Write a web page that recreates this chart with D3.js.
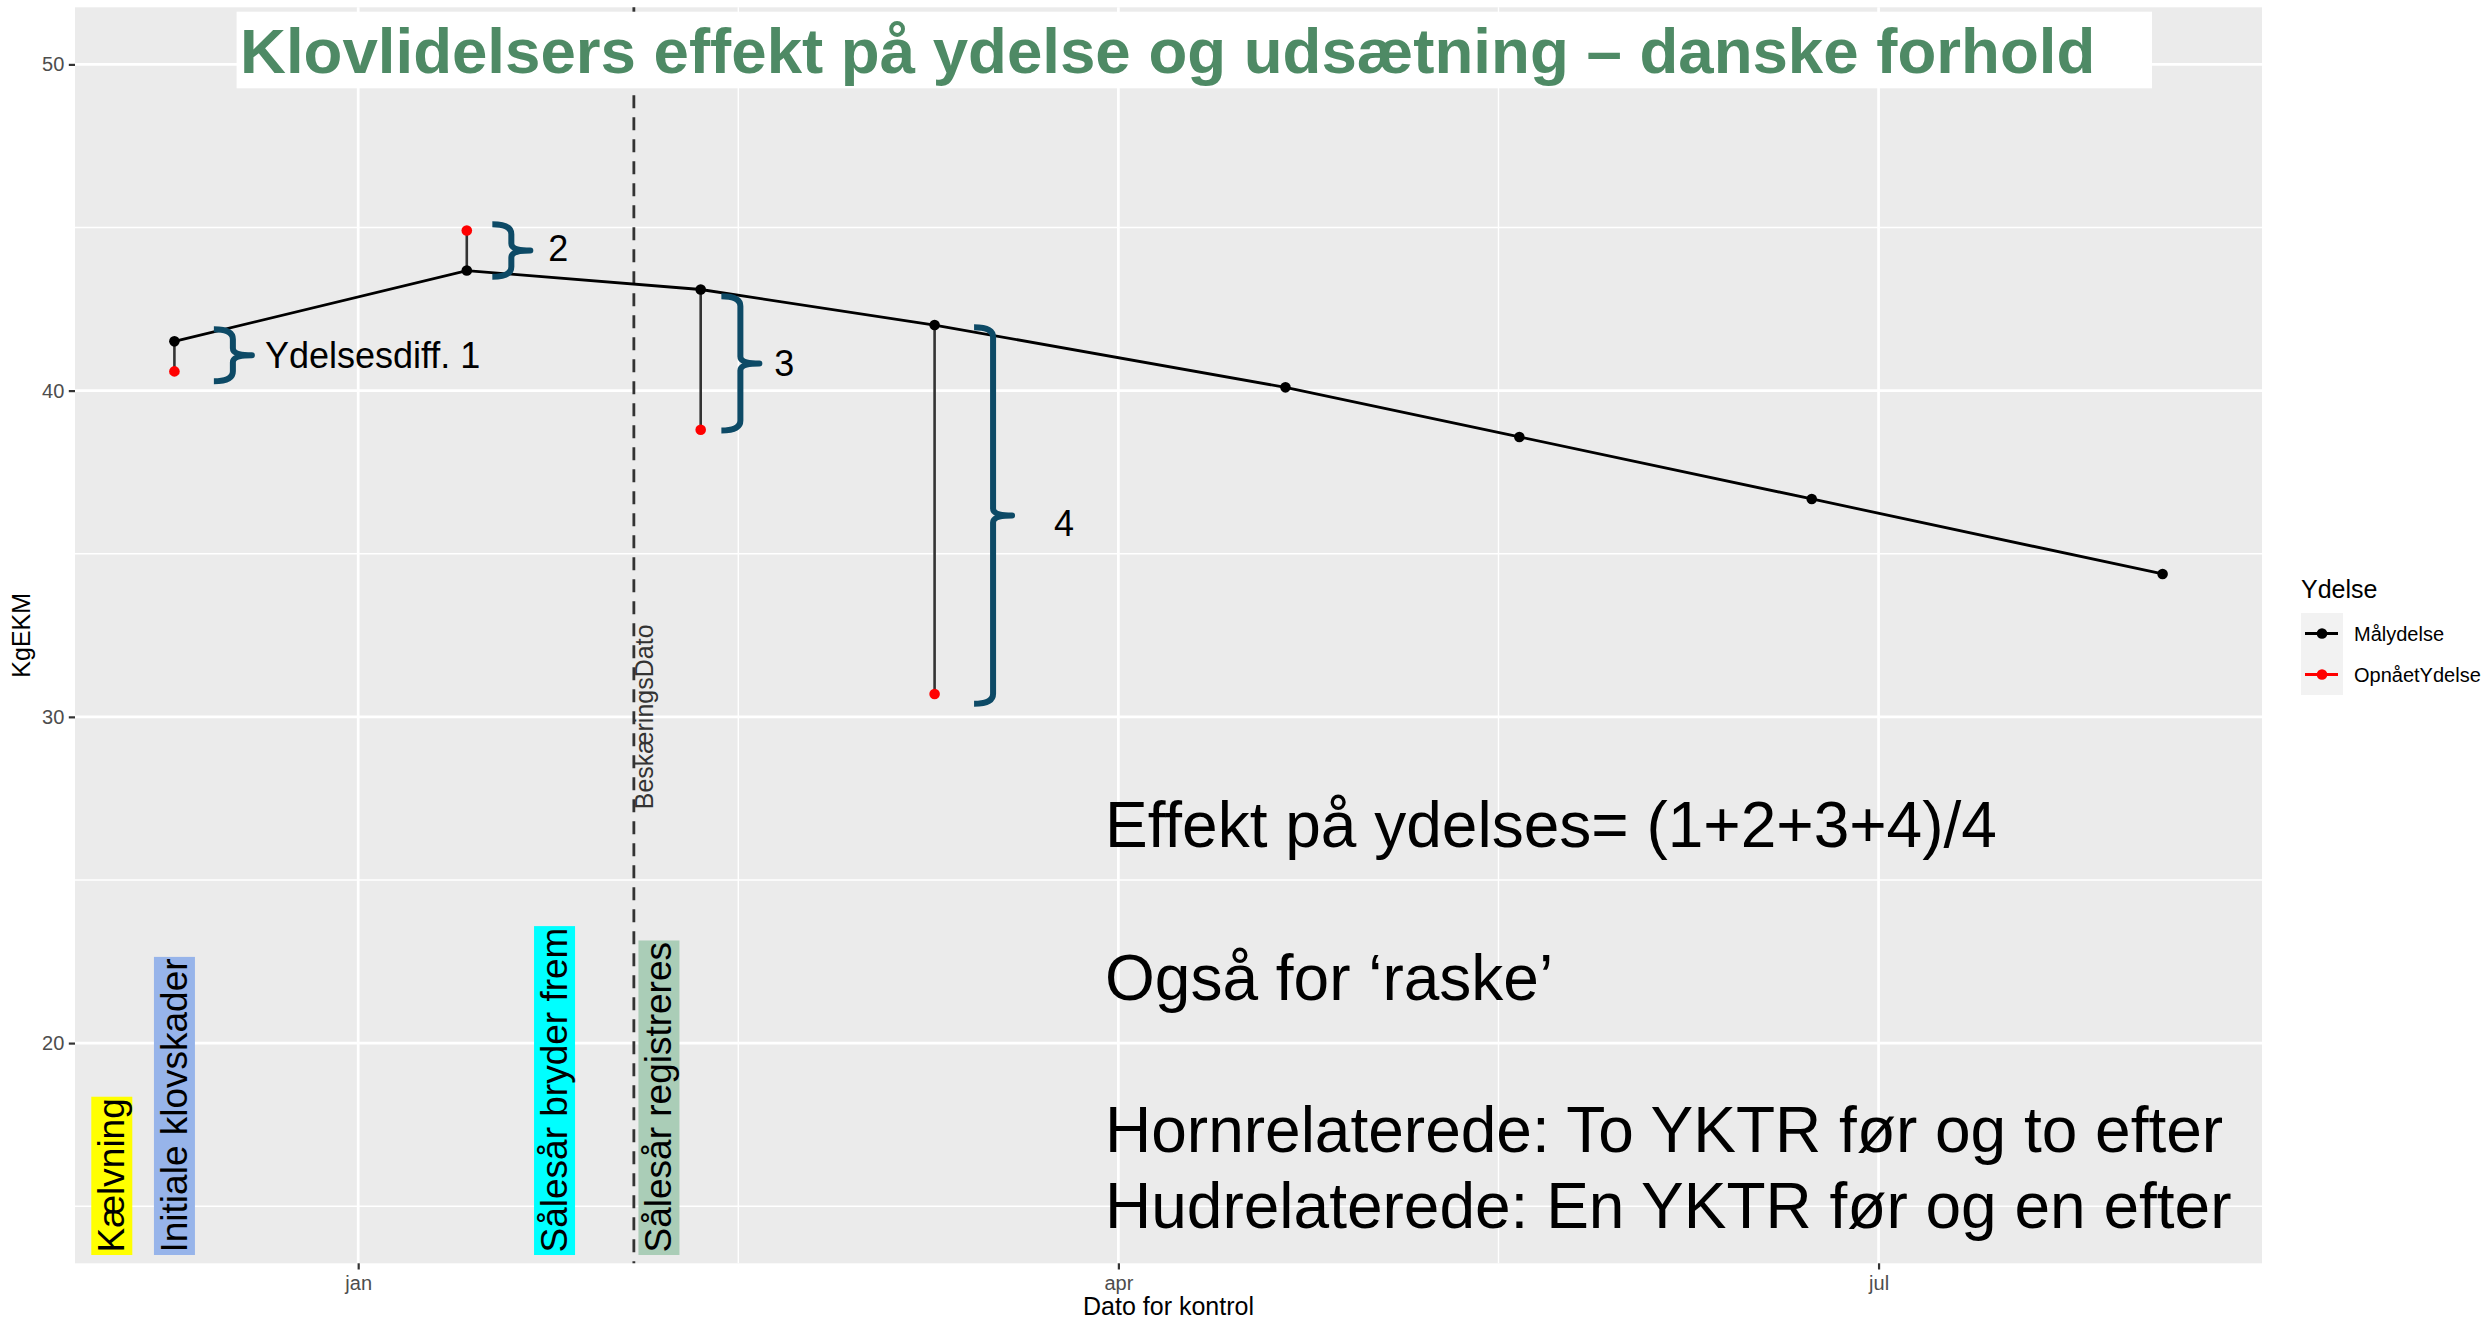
<!DOCTYPE html>
<html>
<head>
<meta charset="utf-8">
<script src="https://cdn.jsdelivr.net/npm/d3@7"></script>
<style>
  html, body { margin: 0; padding: 0; background: #fff; }
  svg { display: block; }
</style>
</head>
<body>
<div id="chart"></div>
<script>
// ---- data ----
const controlDates = ["2019-12-10", "2020-01-14", "2020-02-11", "2020-03-10",
                      "2020-04-21", "2020-05-19", "2020-06-23", "2020-08-04"];
const maalYdelse = [41.51, 43.68, 43.10, 42.01, 40.10, 38.58, 36.68, 34.38];

const opnaaetDates = ["2019-12-10", "2020-01-14", "2020-02-11", "2020-03-10"];
const opnaaetYdelse = [40.59, 44.91, 38.80, 30.70];

const beskaeringsDato = "2020-02-03";
const beskaeringsLabelY = 30;

const yLimits = [15, 50];
const yMajorTicks = [20, 30, 40, 50];
const yMinorTicks = [15, 25, 35, 45];
const xMajorTicks = ["2019-10-01", "2020-01-01", "2020-04-01", "2020-07-01", "2020-10-01"];

const seriesNames = ["Målydelse", "OpnåetYdelse"];
const seriesColors = ["#000000", "#ff0000"];

const titleText = "Klovlidelsers effekt på ydelse og udsætning – danske forhold";

// slide annotations (rotated, boxed) and the date they sit at
const eventLabels = ["Kælvning", "Initiale klovskader", "Sålesår bryder frem", "Sålesår registreres"];
const eventDates = ["2019-12-04", "2019-12-11T12:00", "2020-01-26", "2020-02-07T12:00"];
const eventColors = ["#ffff00", "#97b4ea", "#00ffff", "#aacdb7"];

// braces: stem date, top/bottom value, label
const braceDates = ["2019-12-17", "2020-01-19T08:00", "2020-02-15T18:00", "2020-03-17"];
const braceTop = [41.88, 45.10, 42.89, 41.94];
const braceBottom = [40.29, 43.49, 38.78, 30.40];
const braceLabels = ["Ydelsesdiff. 1", "2", "3", "4"];

const noteLines = [
  "Effekt på ydelses= (1+2+3+4)/4",
  "Også for ‘raske’",
  "Hornrelaterede: To YKTR før og to efter",
  "Hudrelaterede: En YKTR før og en efter"
];

// ---- layout ----
const width = 2489;
const height = 1321;
const panelLeft = 75;
const panelRight = 2262;
const panelTop = 7.3;
const panelBottom = 1263.3;
const font = "'Liberation Sans', Arial, Helvetica, sans-serif";

const braceLabelDx = [13, 18, 15, 42];
const braceLabelDy = [13, 10, 13, 20];
const noteBaselines = [847, 1000, 1152, 1228];

const parse = (s) => new Date(s + (s.length === 10 ? "T00:00:00Z" : "Z"));

const maalData = controlDates.map((d, i) => ({ date: parse(d), value: maalYdelse[i] }));
const opnData = opnaaetDates.map((d, i) => ({ date: parse(d), value: opnaaetYdelse[i] }));
const maalByDate = new Map(maalData.map((d) => [+d.date, d.value]));

const daLocale = d3.timeFormatLocale({
  dateTime: "%A den %d %B %Y %X", date: "%d-%m-%Y", time: "%H:%M:%S",
  periods: ["AM", "PM"],
  days: ["søndag", "mandag", "tirsdag", "onsdag", "torsdag", "fredag", "lørdag"],
  shortDays: ["søn", "man", "tir", "ons", "tor", "fre", "lør"],
  months: ["januar", "februar", "marts", "april", "maj", "juni", "juli", "august", "september", "oktober", "november", "december"],
  shortMonths: ["jan", "feb", "mar", "apr", "maj", "jun", "jul", "aug", "sep", "okt", "nov", "dec"]
});

// ggplot style 5% expansion
const xExt = d3.extent(maalData, (d) => +d.date);
const xPad = (xExt[1] - xExt[0]) * 0.05;
const x = d3.scaleUtc()
  .domain([new Date(xExt[0] - xPad), new Date(xExt[1] + xPad)])
  .range([panelLeft, panelRight]);

const yPad = (yLimits[1] - yLimits[0]) * 0.05;
const y = d3.scaleLinear()
  .domain([yLimits[0] - yPad, yLimits[1] + yPad])
  .range([panelBottom, panelTop]);

const svg = d3.select("#chart").append("svg")
  .attr("width", width)
  .attr("height", height)
  .attr("viewBox", [0, 0, width, height])
  .style("font-family", font);

svg.append("rect").attr("width", width).attr("height", height).attr("fill", "#fff");

// panel
svg.append("rect")
  .attr("x", panelLeft).attr("y", panelTop)
  .attr("width", panelRight - panelLeft).attr("height", panelBottom - panelTop)
  .attr("fill", "#ebebeb");

const xMajor = xMajorTicks.map(parse);
const xMinor = d3.pairs(xMajor).map(([a, b]) => new Date((+a + +b) / 2));
const inX = (d) => x(d) >= panelLeft - 0.5 && x(d) <= panelRight + 0.5;

const grid = svg.append("g").attr("stroke", "#fff");
grid.selectAll(".ymin").data(yMinorTicks).join("line")
  .attr("x1", panelLeft).attr("x2", panelRight)
  .attr("y1", (d) => y(d)).attr("y2", (d) => y(d))
  .attr("stroke-width", 1.4);
grid.selectAll(".xmin").data(xMinor.filter(inX)).join("line")
  .attr("y1", panelTop).attr("y2", panelBottom)
  .attr("x1", (d) => x(d)).attr("x2", (d) => x(d))
  .attr("stroke-width", 1.4);
grid.selectAll(".ymaj").data(yMajorTicks).join("line")
  .attr("x1", panelLeft).attr("x2", panelRight)
  .attr("y1", (d) => y(d)).attr("y2", (d) => y(d))
  .attr("stroke-width", 2.7);
grid.selectAll(".xmaj").data(xMajor.filter(inX)).join("line")
  .attr("y1", panelTop).attr("y2", panelBottom)
  .attr("x1", (d) => x(d)).attr("x2", (d) => x(d))
  .attr("stroke-width", 2.7);

// cut-off date
const bx = x(parse(beskaeringsDato));
svg.append("line")
  .attr("x1", bx).attr("x2", bx)
  .attr("y1", panelTop).attr("y2", panelBottom)
  .attr("stroke", "#333")
  .attr("stroke-width", 2.8)
  .attr("stroke-dasharray", "13,9");

svg.append("text")
  .attr("transform", `translate(${bx + 19},${y(beskaeringsLabelY)}) rotate(-90)`)
  .attr("text-anchor", "middle")
  .attr("font-size", 25)
  .attr("fill", "#333")
  .text("BeskæringsDato");

// segments between target and achieved
svg.append("g").selectAll("line").data(opnData).join("line")
  .attr("x1", (d) => x(d.date)).attr("x2", (d) => x(d.date))
  .attr("y1", (d) => y(maalByDate.get(+d.date)))
  .attr("y2", (d) => y(d.value))
  .attr("stroke", "#333")
  .attr("stroke-width", 2.6);

svg.append("path")
  .datum(maalData)
  .attr("fill", "none")
  .attr("stroke", seriesColors[0])
  .attr("stroke-width", 2.8)
  .attr("d", d3.line().x((d) => x(d.date)).y((d) => y(d.value)));

svg.append("g").selectAll("circle").data(maalData).join("circle")
  .attr("cx", (d) => x(d.date)).attr("cy", (d) => y(d.value))
  .attr("r", 5.3).attr("fill", seriesColors[0]);

svg.append("g").selectAll("circle").data(opnData).join("circle")
  .attr("cx", (d) => x(d.date)).attr("cy", (d) => y(d.value))
  .attr("r", 5.3).attr("fill", seriesColors[1]);

// axes
const yAxis = svg.append("g")
  .attr("transform", `translate(${panelLeft},0)`)
  .call(d3.axisLeft(y).tickValues(yMajorTicks).tickSize(6.2).tickPadding(4.5));
const xAxis = svg.append("g")
  .attr("transform", `translate(0,${panelBottom})`)
  .call(d3.axisBottom(x).tickValues(xMajor.filter(inX))
    .tickFormat(daLocale.utcFormat("%b")).tickSize(6.2).tickPadding(6));

[yAxis, xAxis].forEach((g) => {
  g.select(".domain").remove();
  g.selectAll(".tick line").attr("stroke", "#333").attr("stroke-width", 2.2);
  g.selectAll(".tick text")
    .attr("fill", "#4d4d4d")
    .attr("font-size", 20)
    .attr("font-family", font);
});

svg.append("text")
  .attr("x", (panelLeft + panelRight) / 2).attr("y", 1315)
  .attr("text-anchor", "middle").attr("font-size", 25)
  .text("Dato for kontrol");

svg.append("text")
  .attr("transform", `translate(30,${(panelTop + panelBottom) / 2}) rotate(-90)`)
  .attr("text-anchor", "middle").attr("font-size", 25)
  .text("KgEKM");

// legend
const legend = svg.append("g").attr("transform", "translate(2301,0)");
legend.append("text").attr("x", 0).attr("y", 598).attr("font-size", 25).text("Ydelse");
seriesNames.forEach((name, i) => {
  const cy = 633.5 + i * 41;
  legend.append("rect").attr("x", 0).attr("y", cy - 20.5).attr("width", 42).attr("height", 41)
    .attr("fill", "#f2f2f2");
  legend.append("line").attr("x1", 4).attr("x2", 37).attr("y1", cy).attr("y2", cy)
    .attr("stroke", seriesColors[i]).attr("stroke-width", 2.8);
  legend.append("circle").attr("cx", 21).attr("cy", cy).attr("r", 5.3).attr("fill", seriesColors[i]);
  legend.append("text").attr("x", 53).attr("y", cy + 7).attr("font-size", 20).text(name);
});

// ---- slide overlays ----
svg.append("rect")
  .attr("x", 236.6).attr("y", 11.7).attr("width", 1915.4).attr("height", 76.6)
  .attr("fill", "#fff");
svg.append("text")
  .attr("x", 240).attr("y", 72.7)
  .attr("font-size", 63.6).attr("font-weight", "bold")
  .attr("fill", "#4e8a65")
  .text(titleText);

// rotated event labels with highlight boxes
eventLabels.forEach((label, i) => {
  const g = svg.append("g")
    .attr("transform", `translate(${x(parse(eventDates[i]))},${panelBottom - 10.8}) rotate(-90)`);
  const box = g.append("rect").attr("fill", eventColors[i]);
  const t = g.append("text").attr("font-size", 37).attr("fill", "#000").text(label);
  const bb = t.node().getBBox();
  box.attr("x", bb.x - 2.5).attr("y", bb.y)
    .attr("width", bb.width + 4).attr("height", bb.height);
});

// braces
function bracePath(sx, yt, yb) {
  const arm = 19, tip = 19, r = 10, k = 7;
  const ym = (yt + yb) / 2;
  return `M${sx - arm},${yt} Q${sx},${yt} ${sx},${yt + r}` +
    ` L${sx},${ym - k} Q${sx},${ym} ${sx + tip},${ym}` +
    ` Q${sx},${ym} ${sx},${ym + k}` +
    ` L${sx},${yb - r} Q${sx},${yb} ${sx - arm},${yb}`;
}

braceDates.forEach((d, i) => {
  const sx = x(parse(d));
  const yt = y(braceTop[i]);
  const yb = y(braceBottom[i]);
  svg.append("path")
    .attr("d", bracePath(sx, yt, yb))
    .attr("fill", "none")
    .attr("stroke", "#0d4a66")
    .attr("stroke-width", 6)
    .attr("stroke-linejoin", "round");
  svg.append("text")
    .attr("x", sx + 19 + braceLabelDx[i])
    .attr("y", (yt + yb) / 2 + braceLabelDy[i])
    .attr("font-size", 36)
    .text(braceLabels[i]);
});

// notes
svg.append("g").selectAll("text").data(noteLines).join("text")
  .attr("x", 1105)
  .attr("y", (d, i) => noteBaselines[i])
  .attr("font-size", 64)
  .attr("fill", "#000")
  .text((d) => d);
</script>
</body>
</html>
